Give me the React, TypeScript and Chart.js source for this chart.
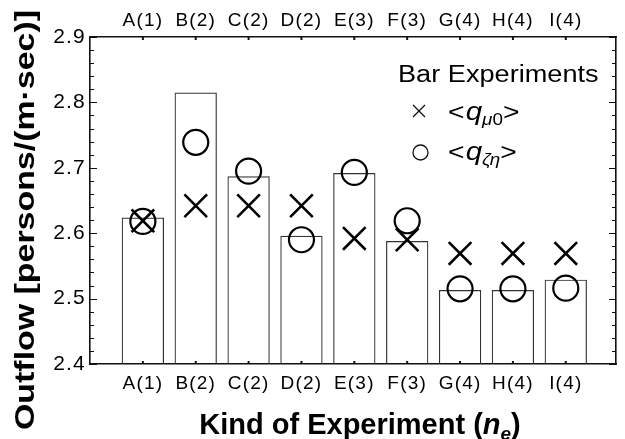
import React, { useEffect, useRef } from 'react';
import { Chart, registerables } from 'chart.js';

Chart.register(...registerables);

// ---- data ----
const categories = ['A(1)', 'B(2)', 'C(2)', 'D(2)', 'E(3)', 'F(3)', 'G(4)', 'H(4)', 'I(4)'];
const barValues = [2.624, 2.815, 2.687, 2.596, 2.692, 2.588, 2.513, 2.513, 2.529];
const qMu0 = [2.619, 2.642, 2.642, 2.642, 2.592, 2.590, 2.569, 2.569, 2.569];
const qZetaEta = [2.618, 2.739, 2.695, 2.590, 2.693, 2.619, 2.515, 2.515, 2.516];
const yTickValues = [2.4, 2.5, 2.6, 2.7, 2.8, 2.9];
const yMinorStep = 0.02;
const xRange = [0, 9.95];

const FONT = '"Liberation Sans", Arial, Helvetica, sans-serif';

type Run = { text: string; font: string; dy?: number; gap?: number };

function runsWidth(ctx: CanvasRenderingContext2D, runs: Run[]) {
  let w = 0;
  for (const r of runs) {
    ctx.font = r.font;
    w += ctx.measureText(r.text).width + (r.gap || 0);
  }
  return w;
}

function drawRuns(
  ctx: CanvasRenderingContext2D,
  runs: Run[],
  x: number,
  y: number,
  sx = 1,
  align: 'left' | 'center' = 'left'
) {
  const total = runsWidth(ctx, runs);
  ctx.save();
  ctx.translate(x, y);
  ctx.scale(sx, 1);
  ctx.textAlign = 'left';
  ctx.textBaseline = 'alphabetic';
  let cx = align === 'center' ? -total / 2 : 0;
  for (const r of runs) {
    ctx.font = r.font;
    ctx.fillText(r.text, cx, r.dy || 0);
    cx += ctx.measureText(r.text).width + (r.gap || 0);
  }
  ctx.restore();
}

const decorPlugin = {
  id: 'decor',
  beforeDraw(chart: any) {
    (chart.ctx as any).letterSpacing = '1.2px';
  },
  afterDraw(chart: any) {
    const ctx: CanvasRenderingContext2D = chart.ctx;
    (ctx as any).letterSpacing = '0px';
    const area = chart.chartArea;
    const xs = chart.scales.x;
    const ys = chart.scales.y;
    ctx.save();
    ctx.strokeStyle = '#111';
    ctx.fillStyle = '#000';

    // inward y ticks (left and right)
    ctx.lineWidth = 1.2;
    const n = Math.round((ys.max - ys.min) / yMinorStep);
    for (let k = 0; k <= n; k++) {
      const v = ys.min + k * yMinorStep;
      const py = Math.round(ys.getPixelForValue(v)) + 0.5;
      const len = k % 5 === 0 ? 7 : 4;
      ctx.beginPath();
      ctx.moveTo(area.left, py);
      ctx.lineTo(area.left + len, py);
      ctx.moveTo(area.right, py);
      ctx.lineTo(area.right - len, py);
      ctx.stroke();
    }
    // inward x ticks (bottom and top)
    ctx.lineWidth = 2;
    categories.forEach((_, i) => {
      const px = xs.getPixelForValue(i + 1);
      ctx.beginPath();
      ctx.moveTo(px, area.bottom);
      ctx.lineTo(px, area.bottom - 3);
      ctx.moveTo(px, area.top);
      ctx.lineTo(px, area.top + 3);
      ctx.stroke();
    });

    // y axis title (rotated)
    ctx.save();
    const yTitle = 'Outflow [persons/(m\u00b7sec)]';
    ctx.font = `bold 28px ${FONT}`;
    const natural = ctx.measureText(yTitle).width;
    const sy = 420 / natural;
    ctx.translate(33.5, 220);
    ctx.rotate(-Math.PI / 2);
    ctx.scale(sy, 1);
    ctx.textAlign = 'center';
    ctx.textBaseline = 'alphabetic';
    ctx.fillText(yTitle, 0, 0);
    ctx.restore();

    // x axis title
    drawRuns(
      ctx,
      [
        { text: 'Kind of Experiment (', font: `bold 29px ${FONT}` },
        { text: 'n', font: `italic bold 29px ${FONT}` },
        { text: 'e', font: `italic bold 19px ${FONT}`, dy: 6 },
        { text: ')', font: `bold 29px ${FONT}` },
      ],
      360,
      434,
      1,
      'center'
    );

    // legend
    const lsx = 1.18;
    drawRuns(ctx, [{ text: 'Bar Experiments', font: `23px ${FONT}` }], 398, 82, lsx);
    // cross symbol
    ctx.lineWidth = 1.3;
    ctx.beginPath();
    ctx.moveTo(413, 105);
    ctx.lineTo(425, 117);
    ctx.moveTo(425, 105);
    ctx.lineTo(413, 117);
    ctx.stroke();
    drawRuns(
      ctx,
      [
        { text: '<', font: `24px ${FONT}`, gap: 1 },
        { text: 'q', font: `italic 25px ${FONT}` },
        { text: '\u03bc', font: `italic 16px ${FONT}`, dy: 5 },
        { text: '0', font: `16px ${FONT}`, dy: 5 },
        { text: '>', font: `24px ${FONT}` },
      ],
      448,
      120,
      lsx
    );
    // circle symbol
    ctx.beginPath();
    ctx.arc(420.5, 152.5, 7.5, 0, Math.PI * 2);
    ctx.stroke();
    drawRuns(
      ctx,
      [
        { text: '<', font: `24px ${FONT}`, gap: 1 },
        { text: 'q', font: `italic 25px ${FONT}` },
        { text: '\u03b6\u03b7', font: `italic 16px ${FONT}`, dy: 5 },
        { text: '>', font: `24px ${FONT}` },
      ],
      448,
      160,
      lsx
    );
    ctx.restore();
  },
};

const catCallback = (v: any) => categories[Math.round(Number(v)) - 1] ?? '';

export default function App() {
  const ref = useRef<HTMLCanvasElement | null>(null);

  useEffect(() => {
    if (!ref.current) return;
    const axisBorder = { display: true, color: '#111', width: 1.6 };
    const noGrid = { display: false, drawTicks: false, tickLength: 0, offset: false };
    const xFit = (h: number) => (s: any) => {
      s.height = h;
      s.paddingLeft = 0;
      s.paddingRight = 0;
    };
    const chart = new Chart(ref.current, {
      type: 'bar',
      data: {
        datasets: [
          {
            type: 'scatter',
            label: '<q_mu0>',
            data: qMu0.map((v, i) => ({ x: i + 1, y: v })),
            pointStyle: 'crossRot',
            pointRadius: 16,
            pointBorderWidth: 2.6,
            borderColor: '#000',
            backgroundColor: 'rgba(0,0,0,0)',
            order: 1,
          } as any,
          {
            type: 'scatter',
            label: '<q_zeta_eta>',
            data: qZetaEta.map((v, i) => ({ x: i + 1, y: v })),
            pointStyle: 'circle',
            pointRadius: 12.5,
            pointBorderWidth: 2.2,
            borderColor: '#000',
            backgroundColor: 'rgba(0,0,0,0)',
            order: 2,
          } as any,
          {
            type: 'bar',
            label: 'Bar Experiments',
            data: barValues.map((v, i) => ({ x: i + 1, y: v })),
            backgroundColor: 'rgba(255,255,255,0)',
            borderColor: '#333',
            borderWidth: 1.2,
            barPercentage: 0.8,
            categoryPercentage: 1,
            order: 3,
          } as any,
        ],
      },
      options: {
        responsive: false,
        animation: false,
        devicePixelRatio: 1,
        layout: { padding: 0, autoPadding: false },
        plugins: {
          legend: { display: false },
          tooltip: { enabled: false },
          title: { display: false },
        },
        scales: {
          x: {
            type: 'linear',
            position: 'bottom',
            offset: false,
            min: xRange[0],
            max: xRange[1],
            grid: noGrid,
            border: axisBorder,
            afterBuildTicks: (s: any) => {
              s.ticks = categories.map((_, i) => ({ value: i + 1 }));
            },
            afterFit: xFit(75),
            ticks: {
              autoSkip: false,
              maxRotation: 0,
              color: '#000',
              padding: 8,
              font: { family: FONT, size: 19 },
              callback: catCallback,
            },
          },
          x2: {
            type: 'linear',
            position: 'top',
            offset: false,
            min: xRange[0],
            max: xRange[1],
            grid: noGrid,
            border: axisBorder,
            afterBuildTicks: (s: any) => {
              s.ticks = categories.map((_, i) => ({ value: i + 1 }));
            },
            afterFit: xFit(37),
            ticks: {
              autoSkip: false,
              maxRotation: 0,
              color: '#000',
              padding: 5,
              font: { family: FONT, size: 19 },
              callback: catCallback,
            },
          },
          y: {
            type: 'linear',
            position: 'left',
            min: 2.4,
            max: 2.9,
            grid: noGrid,
            border: axisBorder,
            afterBuildTicks: (s: any) => {
              s.ticks = yTickValues.map((v) => ({ value: v }));
            },
            afterFit: (s: any) => {
              s.width = 90;
              s.paddingTop = 0;
              s.paddingBottom = 0;
            },
            ticks: {
              color: '#000',
              padding: 4,
              font: { family: FONT, size: 21 },
              callback: (v: any) => Number(v).toFixed(1),
            },
          },
          y2: {
            type: 'linear',
            position: 'right',
            min: 2.4,
            max: 2.9,
            grid: noGrid,
            border: axisBorder,
            ticks: { display: false },
            afterFit: (s: any) => {
              s.width = 9;
              s.paddingTop = 0;
              s.paddingBottom = 0;
            },
          },
        },
      } as any,
      plugins: [decorPlugin as any],
    });
    return () => chart.destroy();
  }, []);

  return (
    <div style={{ position: 'absolute', left: 0, top: 0, width: 625, height: 439, background: '#fff' }}>
      <canvas ref={ref} width={625} height={439} style={{ display: 'block' }} />
    </div>
  );
}
